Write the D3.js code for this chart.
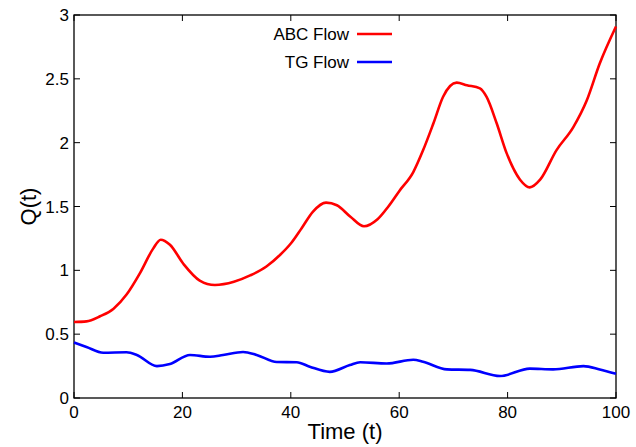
<!DOCTYPE html>
<html>
<head>
<meta charset="utf-8">
<script src="https://cdn.jsdelivr.net/npm/d3@7"></script>
<style>
  body { margin: 0; background: #fff; }
  text { font-family: "Liberation Sans", Arial, sans-serif; fill: #000; }
</style>
</head>
<body>
<svg width="636" height="447"></svg>
<script>
// ABC flow
var abcT = [0, 2.3, 4.8, 7.3, 9.7, 12.2, 14.6, 16, 17.7, 20.2, 23.2, 26, 29.5, 32.5, 35.5, 38, 40, 42, 44.1, 46.5, 48.5, 51, 53.5, 56, 58, 60, 62.6, 64.4, 66.3, 68.1, 70.6, 72.5, 74.9, 76.1, 78, 79.8, 82.3, 84.1, 86, 89, 92.1, 94.6, 97, 100];
var abcQ = [0.595, 0.60, 0.64, 0.70, 0.81, 0.98, 1.17, 1.24, 1.20, 1.05, 0.92, 0.885, 0.91, 0.96, 1.03, 1.12, 1.21, 1.33, 1.46, 1.53, 1.51, 1.42, 1.345, 1.40, 1.50, 1.62, 1.77, 1.94, 2.15, 2.36, 2.47, 2.45, 2.425, 2.36, 2.15, 1.92, 1.71, 1.65, 1.71, 1.94, 2.12, 2.33, 2.62, 2.91];

// TG flow
var tgT = [0, 2.3, 5.4, 9.7, 11.6, 15.3, 17.7, 21.4, 25.1, 27.5, 31.2, 33.7, 37.4, 41.1, 43.5, 47.2, 50.9, 52.8, 57.7, 62.6, 64.4, 68.8, 73.1, 78.6, 84.1, 88.4, 94, 97, 100];
var tgQ = [0.435, 0.40, 0.355, 0.358, 0.337, 0.25, 0.266, 0.337, 0.323, 0.337, 0.36, 0.337, 0.282, 0.28, 0.245, 0.205, 0.258, 0.28, 0.27, 0.30, 0.284, 0.224, 0.22, 0.172, 0.23, 0.224, 0.25, 0.224, 0.19];

var xTicks = [0, 20, 40, 60, 80, 100];
var yTicks = [0, 0.5, 1, 1.5, 2, 2.5, 3];
var seriesNames = ["ABC Flow", "TG Flow"];
var seriesColors = ["#ff0000", "#0000ff"];

var svg = d3.select("svg");
var pLeft = 74, pRight = 616, pTop = 15, pBottom = 398;

var x = d3.scaleLinear().domain([0, 100]).range([pLeft, pRight]);
var y = d3.scaleLinear().domain([0, 3]).range([pBottom, pTop]);

var series = [
  abcT.map(function(t, i) { return [t, abcQ[i]]; }),
  tgT.map(function(t, i) { return [t, tgQ[i]]; })
];

// border box
svg.append("rect")
  .attr("x", pLeft).attr("y", pTop)
  .attr("width", pRight - pLeft).attr("height", pBottom - pTop)
  .attr("fill", "none").attr("stroke", "#000").attr("stroke-width", 1.3);

// ticks, inward on all sides
var tk = svg.append("g").attr("stroke", "#000").attr("stroke-width", 1);
xTicks.forEach(function(v) {
  tk.append("line").attr("x1", x(v)).attr("x2", x(v)).attr("y1", pBottom).attr("y2", pBottom - 6);
  tk.append("line").attr("x1", x(v)).attr("x2", x(v)).attr("y1", pTop).attr("y2", pTop + 6);
});
yTicks.forEach(function(v) {
  tk.append("line").attr("x1", pLeft).attr("x2", pLeft + 6).attr("y1", y(v)).attr("y2", y(v));
  tk.append("line").attr("x1", pRight).attr("x2", pRight - 6).attr("y1", y(v)).attr("y2", y(v));
});

svg.append("g").selectAll("text").data(xTicks).enter().append("text")
  .attr("x", function(d) { return x(d); })
  .attr("y", pBottom + 20)
  .attr("text-anchor", "middle")
  .style("font-size", "17px")
  .text(function(d) { return d; });

svg.append("g").selectAll("text").data(yTicks).enter().append("text")
  .attr("x", pLeft - 5)
  .attr("y", function(d) { return y(d) + 6; })
  .attr("text-anchor", "end")
  .style("font-size", "17px")
  .text(function(d) { return d; });

svg.append("text")
  .attr("x", (pLeft + pRight) / 2).attr("y", 439)
  .attr("text-anchor", "middle")
  .style("font-size", "22px")
  .text("Time (t)");

svg.append("text")
  .attr("transform", "translate(36," + ((pTop + pBottom) / 2) + ") rotate(-90)")
  .attr("text-anchor", "middle")
  .style("font-size", "22px")
  .text("Q(t)");

var line = d3.line()
  .x(function(d) { return x(d[0]); })
  .y(function(d) { return y(d[1]); })
  .curve(d3.curveMonotoneX);

svg.append("g").selectAll("path").data(series).enter().append("path")
  .attr("d", line)
  .attr("fill", "none")
  .attr("stroke", function(d, i) { return seriesColors[i]; })
  .attr("stroke-width", 2.6)
  .attr("stroke-linejoin", "round");

// legend
var lg = svg.append("g").selectAll("g").data(seriesNames).enter().append("g")
  .attr("transform", function(d, i) { return "translate(0," + (34 + i * 28) + ")"; });
lg.append("text")
  .attr("x", 349).attr("y", 6)
  .attr("text-anchor", "end")
  .style("font-size", "17px")
  .text(function(d) { return d; });
lg.append("line")
  .attr("x1", 357).attr("x2", 392)
  .attr("stroke", function(d, i) { return seriesColors[i]; })
  .attr("stroke-width", 2.6);
</script>
</body>
</html>
